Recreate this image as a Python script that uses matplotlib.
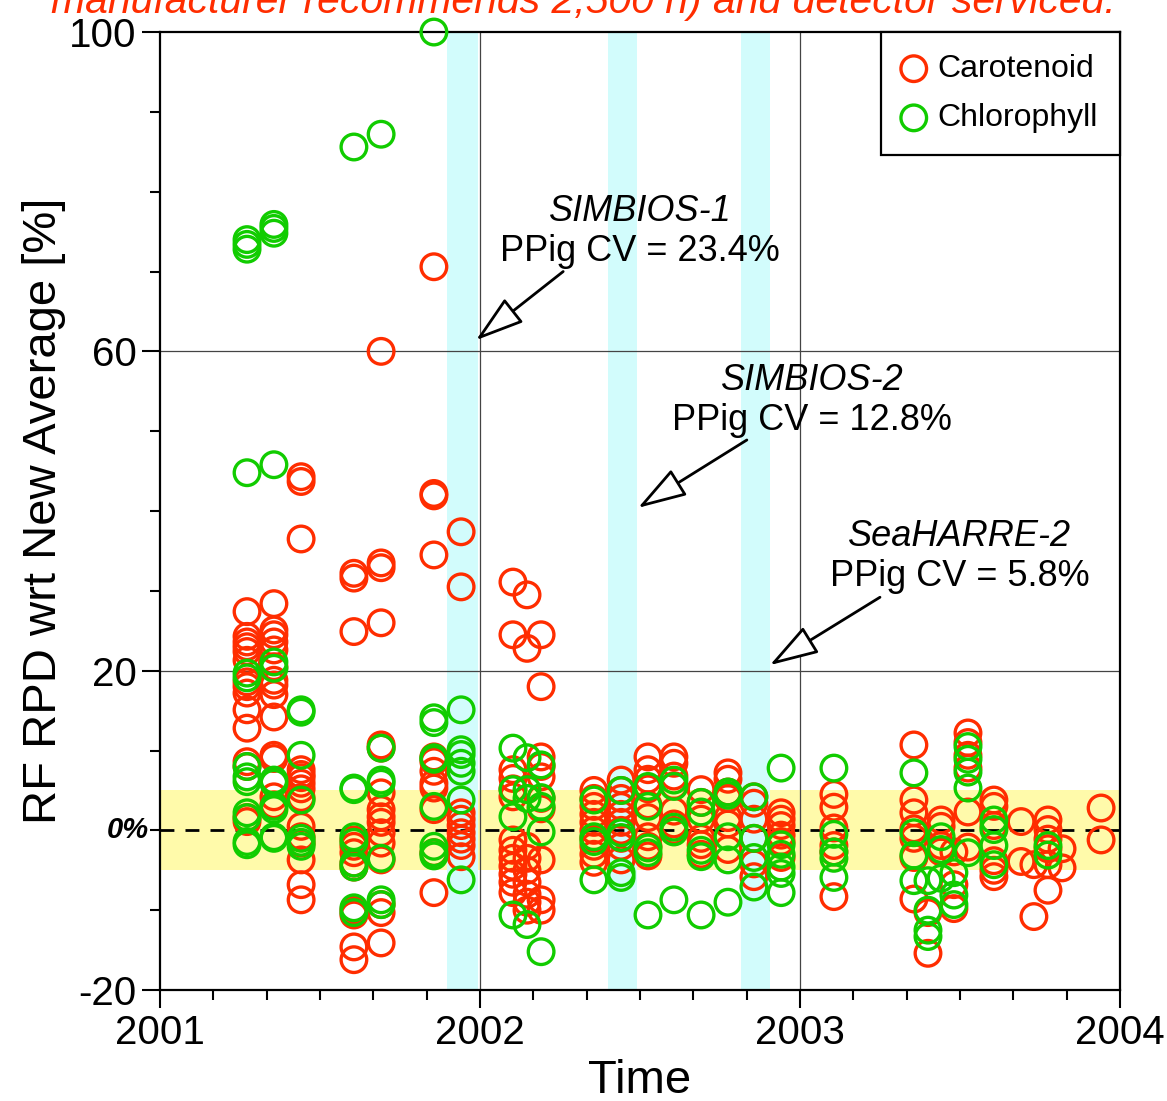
import matplotlib
matplotlib.use("Agg")
import matplotlib.pyplot as plt
from matplotlib.ticker import MultipleLocator, NullFormatter
import matplotlib.transforms as mtransforms

plt.rcParams['font.family'] = ['Liberation Sans', 'DejaVu Sans']
plt.rcParams['axes.unicode_minus'] = False

# sampling dates (decimal year) of each batch of samples
dates = [2001.272, 2001.356, 2001.441, 2001.606, 2001.691, 2001.856, 2001.941,
         2002.103, 2002.147, 2002.191, 2002.356, 2002.441, 2002.525, 2002.606,
         2002.691, 2002.775, 2002.856, 2002.941, 2003.106, 2003.356, 2003.400,
         2003.441, 2003.481, 2003.525, 2003.606, 2003.691, 2003.731, 2003.775,
         2003.819, 2003.941]

# RF RPD wrt new average [%], one list per date
carotenoid = [
    [27.4, 24.3, 23.6, 23.0, 22.4, 21.3, 18.6, 18.0, 17.2, 15.1, 12.8, 8.6, 8.0, 1.6, 1.1],
    [28.4, 25.1, 24.5, 23.6, 22.6, 20.5, 18.8, 18.2, 17.0, 14.2, 9.4, 9.0, 4.2, 3.2],
    [44.3, 43.7, 36.5, 7.6, 7.0, 6.6, 5.9, 5.2, 4.1, 0.5, -0.8, -1.6, -3.7, -6.8, -8.7],
    [32.2, 31.6, 24.9, -1.2, -2.0, -2.8, -4.1, -4.6, -10.0, -10.6, -14.6, -16.2],
    [60.0, 33.5, 32.9, 26.0, 10.7, 10.3, 4.7, 2.6, 1.7, 1.0, -0.3, -1.6, -3.7, -9.3, -10.3, -14.1],
    [70.6, 42.2, 41.9, 34.5, 9.2, 8.6, 7.4, 5.9, 5.3, 2.6, -2.8, -7.8],
    [37.4, 30.5, 2.2, 1.4, 0.6, -0.3, -1.1, -1.9, -3.3],
    [31.1, 24.5, 7.6, 6.5, 5.2, 4.2, -1.2, -2.5, -3.5, -4.5, -5.5, -6.5, -7.8],
    [29.5, 22.8, -2.0, -3.5, -5.0, -6.5, -8.0, -9.0, -10.0],
    [24.5, 18.0, 9.2, 8.0, 6.7, 4.0, 2.7, -3.7, -8.7, -10.0],
    [5.0, 4.0, 3.0, 2.0, 1.0, 0.0, -1.0, -2.0, -3.0, -4.0],
    [6.3, 5.0, 4.0, 3.0, 2.0, 1.0, 0.0, -1.0, -2.0, -3.7],
    [9.2, 7.6, 6.4, 5.2, 3.2, 1.6, -0.8, -2.0, -3.2],
    [9.2, 8.4, 6.8, 5.6, 2.4, 0.8, 0.0],
    [5.1, 3.5, 1.4, -1.0, -1.8, -3.0],
    [7.2, 6.4, 4.8, 4.0, 1.6, 0.8, -2.4],
    [4.2, 3.4, 1.4, -1.0, -4.2, -5.8],
    [2.2, 1.4, 0.6, -0.6, -1.4, -3.4],
    [4.5, 2.9, 0.3, -1.9, -2.7, -8.3],
    [10.7, 3.8, 2.2, 0.2, -1.0, -3.4, -8.6],
    [-10.3, -15.4],
    [1.3, 0.5, -1.9, -2.7],
    [-2.7, -6.8, -9.8],
    [12.2, 11.0, 9.4, 7.8, 2.3, -2.1],
    [3.8, 3.0, 0.6, -3.8, -5.0, -5.8],
    [1.1, -3.9],
    [-4.3, -10.8],
    [1.3, 0.1, -1.1, -2.3, -4.3, -7.5],
    [-2.3, -4.7],
    [2.8, -1.2],
]

chlorophyll = [
    [74.0, 73.4, 72.8, 44.8, 19.7, 19.1, 8.0, 6.7, 6.1, 2.2, 1.6, -1.4, -1.8],
    [75.9, 75.4, 74.8, 45.8, 21.1, 20.3, 6.3, 5.9, 3.0, 2.6, -0.8, -1.0],
    [15.1, 14.8, 9.4, 3.8, -1.0, -1.5, -2.0],
    [85.6, 5.3, 5.1, -0.8, -1.5, -4.1, -4.6, -9.7, -10.3],
    [87.2, 10.3, 6.3, 5.9, -3.5, -8.7, -9.3],
    [100.0, 14.1, 13.5, 9.1, 8.9, 3.0, -2.0, -2.8, -3.2],
    [15.1, 10.1, 9.5, 8.4, 7.4, 3.8, -6.2],
    [10.3, 5.1, 1.7, -10.6],
    [9.1, 5.1, 4.0, -11.8],
    [8.2, 4.1, 3.0, -0.2, -15.2],
    [3.8, -0.8, -1.4, -6.2],
    [5.0, -0.3, -0.9, -5.3, -5.9],
    [5.5, 3.0, -2.2, -2.8, -10.6],
    [6.3, 5.5, 0.4, -0.2, -8.7],
    [3.5, 2.3, -2.5, -3.3, -10.6],
    [4.8, 4.4, -0.8, -3.7, -9.0],
    [4.2, -1.0, -3.4, -7.1],
    [7.8, -1.8, -3.0, -4.6, -5.4, -7.8],
    [7.8, -0.5, -2.7, -3.5, -5.9],
    [7.2, -0.3, -3.1, -6.3],
    [-6.3, -10.0, -12.5, -13.3],
    [-0.8, -2.4, -6.0],
    [-5.3, -8.1, -9.3],
    [10.5, 8.9, 7.3, 5.3, -2.8],
    [1.3, 0.1, -1.9, -4.3],
    [],
    [],
    [-1.9, -3.1],
    [],
    [],
]

# round robins (start, end)
round_robins = [(2001.897, 2001.994), (2002.400, 2002.490), (2002.816, 2002.906)]
rr_names = ['SIMBIOS-1', 'SIMBIOS-2', 'SeaHARRE-2']
rr_cv = ['PPig CV = 23.4%', 'PPig CV = 12.8%', 'PPig CV = 5.8%']

red = '#ff2d00'
green = '#11cc00'

fig = plt.figure(figsize=(11.67, 11.01), dpi=100)
ax = fig.add_axes([0.1371, 0.1008, 0.8226, 0.8701])

# background bands
ax.axhspan(-5, 5, color='#fffaaa', lw=0, zorder=0)
for a, b in round_robins:
    ax.axvspan(a, b, color='#d2fcfc', lw=0, zorder=0.5)

# grid lines
for gx in [2002, 2003]:
    ax.axvline(gx, color='#444444', lw=0.9, zorder=1)
for gy in [20, 60]:
    ax.axhline(gy, color='#444444', lw=0.9, zorder=1)
ax.axhline(0, color='black', lw=2, ls=(0, (5, 4)), zorder=1.5)

# data points
def flatten(groups):
    xs, ys = [], []
    for d, vals in zip(dates, groups):
        for v in vals:
            xs.append(d)
            ys.append(v)
    return xs, ys

cx, cy = flatten(carotenoid)
gx_, gy_ = flatten(chlorophyll)
ax.scatter(cx, cy, s=340, facecolors='none', edgecolors=red, linewidths=2.4,
           label='Carotenoid', zorder=3, clip_on=False)
ax.scatter(gx_, gy_, s=340, facecolors='none', edgecolors=green, linewidths=2.4,
           label='Chlorophyll', zorder=3, clip_on=False)

ax.set_xlim(2001, 2004)
ax.set_ylim(-20, 100)

ax.set_xticks([2001, 2002, 2003, 2004])
ax.xaxis.set_minor_locator(MultipleLocator(1 / 6))
ax.set_yticks([-20, 20, 60, 100])
ax.yaxis.set_minor_locator(MultipleLocator(10))
ax.yaxis.set_minor_formatter(NullFormatter())

ax.tick_params(which='major', direction='out', length=13, width=1.5, labelsize=29, pad=4)
ax.tick_params(which='minor', direction='out', length=7, width=1.5)
for s in ax.spines.values():
    s.set_linewidth(1.6)

# 0% label
trans = mtransforms.blended_transform_factory(ax.transAxes, ax.transData)
ax.text(-0.012, 0, '0%', transform=trans, ha='right', va='center',
        fontsize=21, fontweight='bold', style='italic')

ax.set_xlabel('Time', fontsize=34, labelpad=5)
ax.set_ylabel('RF RPD wrt New Average [%]', fontsize=34, labelpad=2)

# annotations
text_pos = [(2002.5, 77.5), (2003.0375, 56.3), (2003.5, 36.75)]
arrow_tail = [(2002.26, 70.0), (2002.834, 48.9), (2003.25, 29.2)]
arrow_head = [(2001.9875, 61.4), (2002.494, 40.4), (2002.906, 20.7)]
for name, cv, (tx, ty), tail, head in zip(rr_names, rr_cv, text_pos, arrow_tail, arrow_head):
    ax.text(tx, ty, name, ha='center', va='center', fontsize=26, style='italic', zorder=5)
    ax.text(tx, ty - 5, cv, ha='center', va='center', fontsize=26, zorder=5)
    ax.annotate('', xy=head, xytext=tail,
                arrowprops=dict(arrowstyle='-|>,head_length=0.8,head_width=0.25',
                                mutation_scale=38, fc='white', ec='black', lw=2,
                                shrinkA=0, shrinkB=0),
                zorder=5)

leg = ax.legend(loc='upper right', borderaxespad=0, fontsize=23, frameon=True,
                fancybox=False, edgecolor='black', framealpha=1,
                handletextpad=0.4, labelspacing=0.6, borderpad=0.69,
                handlelength=0.69, markerscale=1.0)
leg.get_frame().set_linewidth(1.6)
leg.set_zorder(6)

# title (cut at top of figure as in the original)
fig.text(0.5, 1 - 13 / 1101, 'manufacturer recommends 2,500 h) and detector serviced.',
         ha='center', va='baseline', fontsize=29.5, style='italic', color=red)

fig.savefig('out.png', dpi=100)
